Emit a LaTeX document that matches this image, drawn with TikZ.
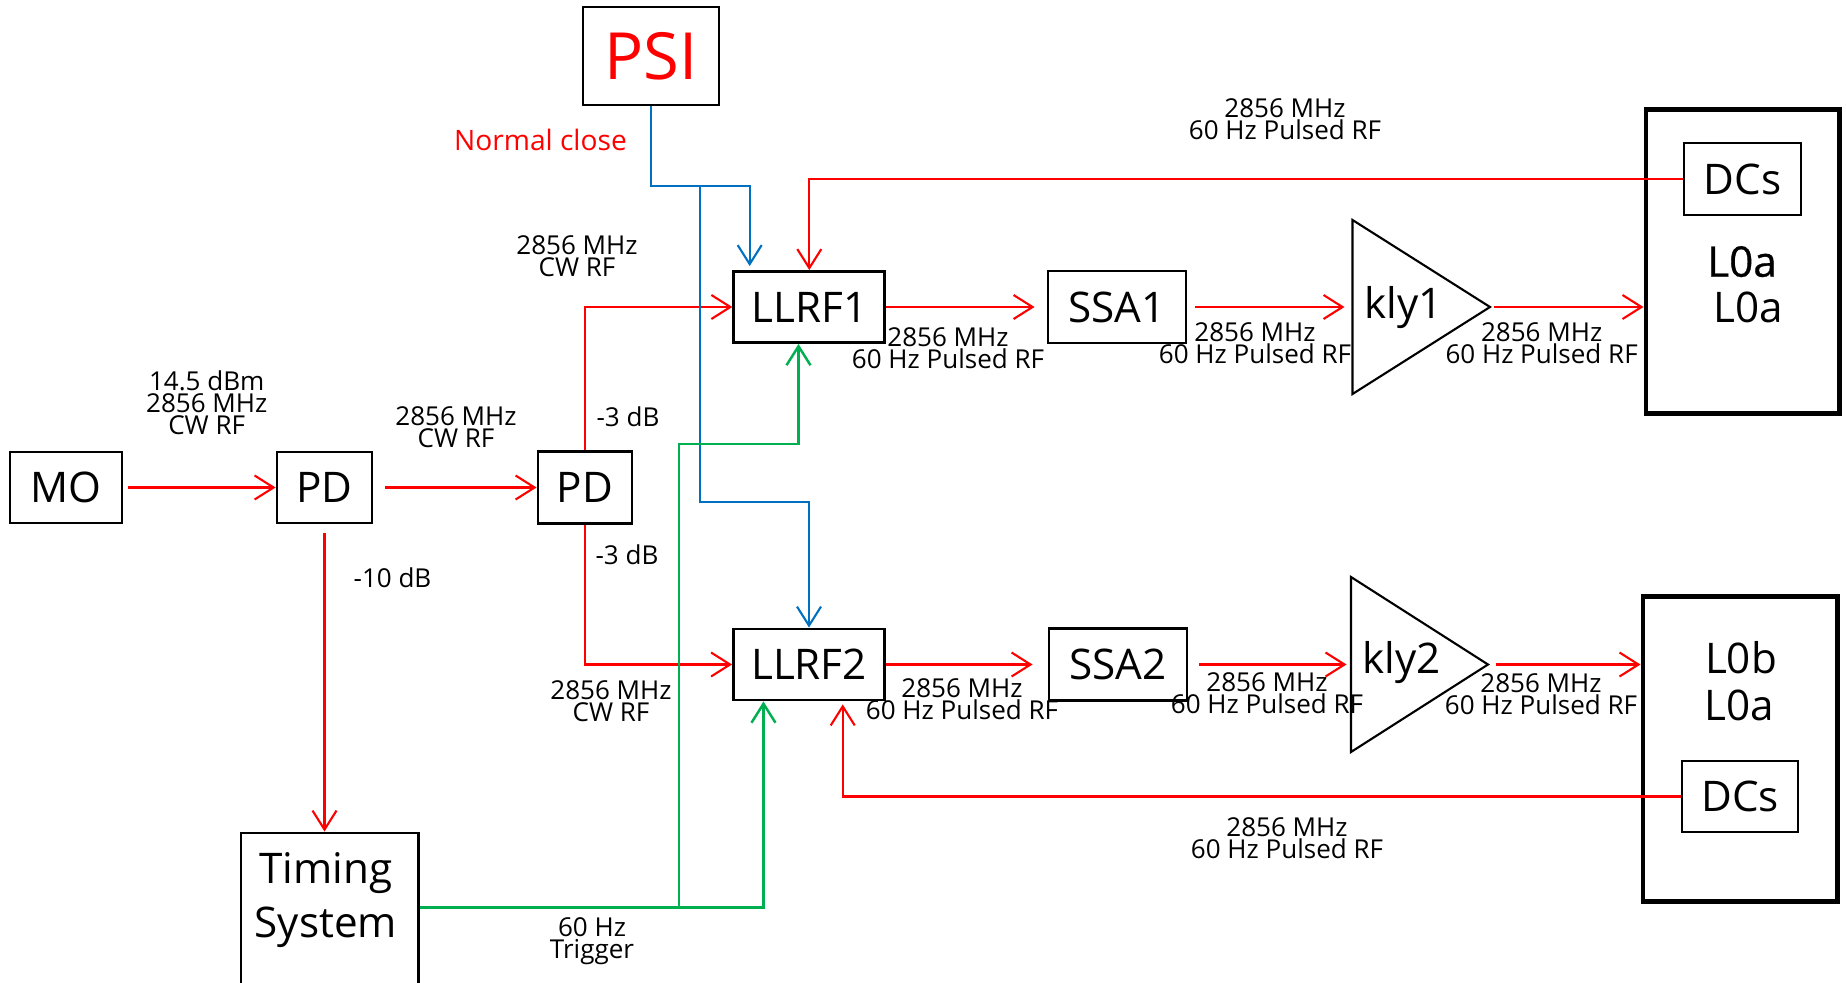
\documentclass[tikz,border=0pt]{standalone}
\usepackage{fontspec}
\setmainfont{Open Sans}
\newfontfamily\heavyfont[FakeBold=0.7]{Open Sans}
\usetikzlibrary{arrows.meta, positioning}
\definecolor{rfred}{HTML}{FF0000}
\definecolor{psiblue}{HTML}{0070C0}
\definecolor{trggreen}{HTML}{00B050}
\tikzset{
  unit/.style={
    draw, line width=0.8pt, inner sep=0pt, align=center,
    font=\fontsize{12}{15}\selectfont
  },
  rack/.style={draw, line width=1.4pt, inner sep=0pt},
  rfline/.style={draw=rfred, line width=0.6pt, -{Straight Barb[length=1.9mm,width=2.4mm]}},
  psiline/.style={draw=psiblue, line width=0.6pt, -{Straight Barb[length=1.9mm,width=2.4mm]}},
  trigline/.style={draw=trggreen, line width=0.7pt, -{Straight Barb[length=1.9mm,width=2.4mm]}},
  lab/.style={font=\fontsize{7.4}{6.2}\selectfont, align=center, inner sep=0pt},
  big/.style={font=\fontsize{12}{15.3}\selectfont, inner sep=0pt}
}

\begin{document}
\begin{tikzpicture}[x=0.01cm, y=-0.01cm]
  \useasboundingbox (0,0) rectangle (1846,982);

  % blocks
  \node[unit, minimum width=11.2mm, minimum height=7.1mm] (mo) at (66,487.5) {MO};
  \node[unit, minimum width=9.5mm, minimum height=7.1mm] (pd1) at (324.5,487.5) {PD};
  \node[unit, minimum width=9.4mm, minimum height=7.2mm] (pd2) at (585,487.5) {PD};
  \node[unit, minimum width=13.6mm, minimum height=9.8mm, text=rfred,
    font=\fontsize{18.5}{20}\selectfont] (psi) at (651,56) {PSI};
  \node[unit, minimum width=15.1mm, minimum height=7.1mm] (llrf1) at (809.3,307) {LLRF1};
  \node[unit, minimum width=15.1mm, minimum height=7.1mm] (llrf2) at (809,664.5) {LLRF2};
  \node[unit, minimum width=17.75mm, minimum height=15.5mm] (timing) at (329.8,910.5) {};
  \node[big, align=center] (timingtxt) at (325.8,900) {Timing\\System};
  \node[unit, minimum width=13.8mm, minimum height=7.2mm] (ssa1) at (1117,307) {SSA1};
  \node[unit, minimum width=13.8mm, minimum height=7.2mm] (ssa2) at (1118,664.5) {SSA2};

  % klystrons
  \draw[line width=0.6pt] (1352.5,220) -- (1490,307) coordinate (k1tip) -- (1352.5,394) -- cycle;
  \coordinate (k1base) at (1352.5,307);
  \node[big, anchor=base] (kly1) at (1403.8,318.3) {kly1};
  \draw[line width=0.6pt] (1351,577) -- (1488,664.5) coordinate (k2tip) -- (1351,752) -- cycle;
  \coordinate (k2base) at (1351,664.5);
  \node[big, anchor=base] (kly2) at (1401.7,673.3) {kly2};

  % linac sections
  \node[rack, minimum width=19.3mm, minimum height=30.3mm] (rack1) at (1742.5,261.5) {};
  \node[unit, line width=0.7pt, minimum width=11.7mm, minimum height=7.2mm] (dcs1) at (1742.5,179) {DCs};
  \node[big, anchor=base, font=\fontsize{12}{15}\heavyfont] (l0a1) at (1742,276.7) {L0a};
  \node[big, anchor=base] (l0a2) at (1748,322) {L0a};
  \node[rack, minimum width=19.4mm, minimum height=30.4mm] (rack2) at (1740,749) {};
  \node[unit, line width=0.7pt, minimum width=11.55mm, minimum height=7.1mm] (dcs2) at (1740,796.5) {DCs};
  \node[big, anchor=base] (l0b) at (1741,673.3) {L0b};
  \node[big, anchor=base] (l0a3) at (1739,720) {L0a};

  % rf distribution
  \draw[rfline, shorten <=0.5mm] (mo.east) -- (pd1.west);
  \draw[rfline, shorten <=1.2mm] (pd1.east) -- (pd2.west);
  \draw[rfline, shorten <=0.9mm] (pd1.south) -- (pd1.south |- timing.north);
  \draw[rfline] (pd2.north) |- (llrf1.west);
  \draw[rfline] (pd2.south) |- (llrf2.west);
  \draw[rfline, shorten >=1.2mm] (llrf1.east) -- (ssa1.west);
  \draw[rfline, shorten <=0.8mm, shorten >=0.8mm] (ssa1.east) -- (k1base);
  \draw[rfline, shorten <=0.4mm] (k1tip) -- (k1tip -| rack1.west);
  \draw[rfline, shorten >=1.5mm] (llrf2.east) -- (ssa2.west);
  \draw[rfline, shorten <=1.1mm, shorten >=0.45mm] (ssa2.east) -- (k2base);
  \draw[rfline, shorten <=0.75mm] (k2tip) -- (k2tip -| rack2.west);
  \draw[rfline] (dcs1.west) -| (llrf1.north);
  \draw[rfline, shorten >=0.3mm] (dcs2.west) -| ([xshift=3.37mm]llrf2.south);

  % interlock
  \coordinate (bsplit) at (700,185.7);
  \coordinate (bbend) at (700,501.7);
  \coordinate (b1in) at ([xshift=-5.96mm]llrf1.north);
  \draw[psiline, shorten >=0.4mm] (psi.south) |- (b1in |- bsplit) -- (b1in);
  \draw[psiline] (bsplit) -- (bbend) -| (llrf2.north);

  % trigger
  \coordinate (gsplit) at (679,907.7);
  \coordinate (gbend) at (679,444);
  \draw[trigline] (timing.east |- gsplit) -| ([xshift=-4.55mm]llrf2.south);
  \draw[trigline] (gsplit) -- (gbend) -| ([xshift=-1.08mm]llrf1.south);

  % labels
  \node[lab] (lmo) at (206.7,402.5) {14.5 dBm\\2856 MHz\\CW RF};
  \node[lab] (lpd) at (456,427.5) {2856 MHz\\CW RF};
  \node[lab] (lin1) at (577,256) {2856 MHz\\CW RF};
  \node[lab] (lin2) at (611,701) {2856 MHz\\CW RF};
  \node[lab] (latt1) at (628,416.7) {-3 dB};
  \node[lab] (latt2) at (627,555) {-3 dB};
  \node[lab] (latt3) at (392.5,578) {-10 dB};
  \node[lab, text=rfred, font=\fontsize{8}{10}\selectfont] (lnc) at (540.5,140) {Normal close};
  \node[lab] (ltrig) at (592,941) {60 Hz\\Trigger};
  \node[lab] (lfb1) at (1285,119) {2856 MHz\\60 Hz Pulsed RF};
  \node[lab] (lfb2) at (1287,838) {2856 MHz\\60 Hz Pulsed RF};
  \node[lab] (lo1a) at (948,348.5) {2856 MHz\\60 Hz Pulsed RF};
  \node[lab] (lo1b) at (1255,343.5) {2856 MHz\\60 Hz Pulsed RF};
  \node[lab] (lo1c) at (1541.6,343) {2856 MHz\\60 Hz Pulsed RF};
  \node[lab] (lo2a) at (962,699) {2856 MHz\\60 Hz Pulsed RF};
  \node[lab] (lo2b) at (1267,693) {2856 MHz\\60 Hz Pulsed RF};
  \node[lab] (lo2c) at (1541,694.5) {2856 MHz\\60 Hz Pulsed RF};
\end{tikzpicture}
\end{document}
